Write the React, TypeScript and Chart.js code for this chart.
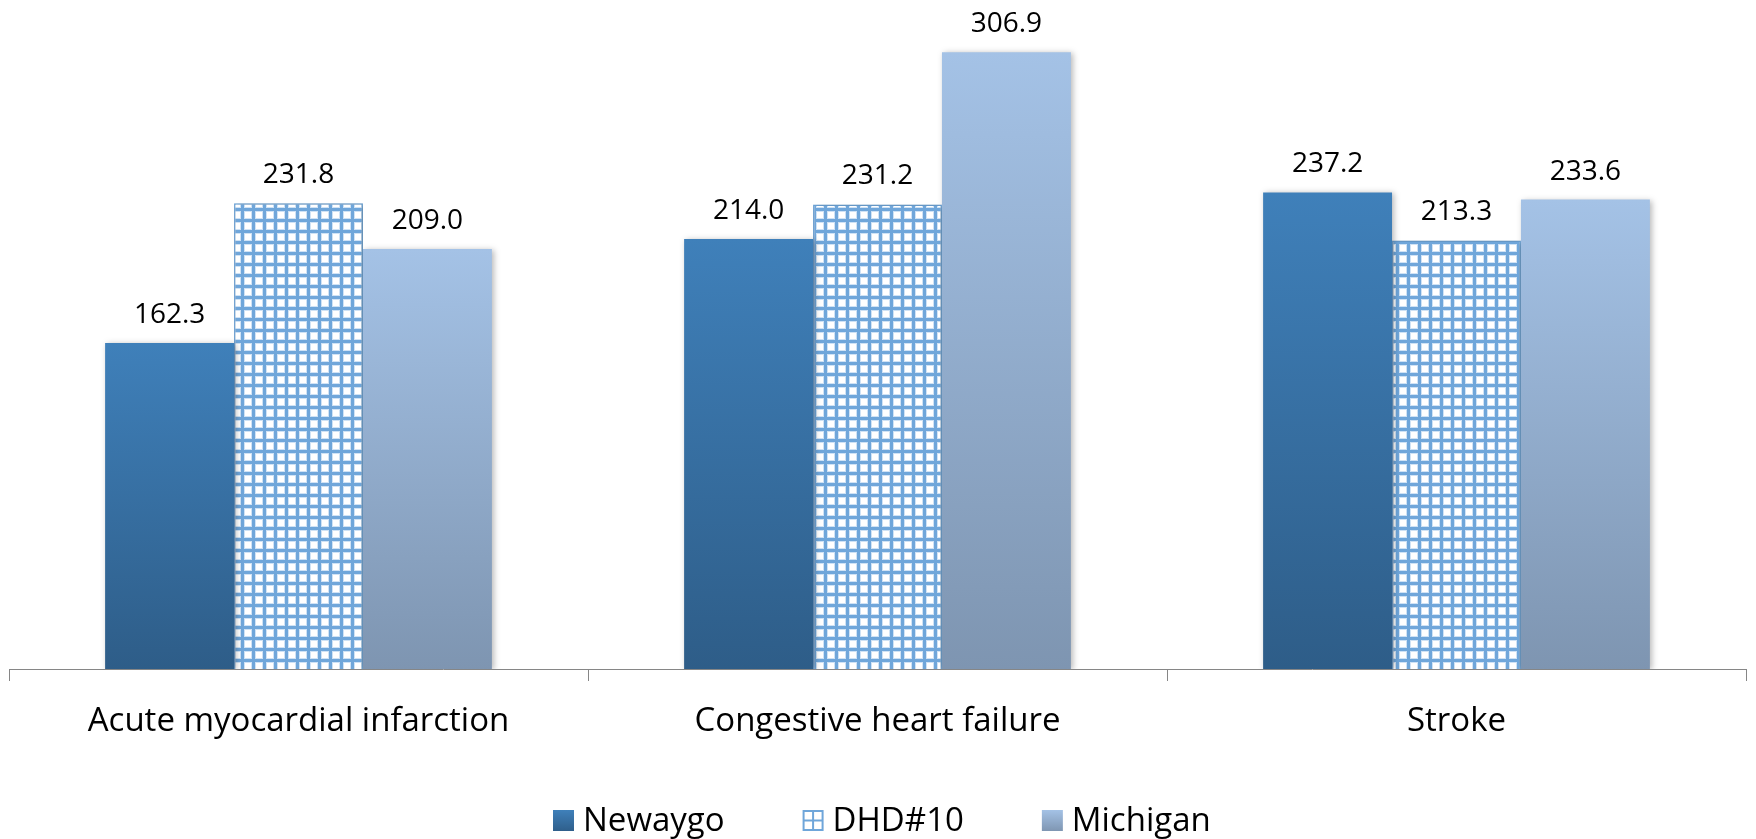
import React, { useEffect, useRef } from "react";
import { Chart, registerables } from "chart.js";

Chart.register(...registerables);

const categories = ["Acute myocardial infarction", "Congestive heart failure", "Stroke"];
const seriesNames = ["Newaygo", "DHD#10", "Michigan"];
const newaygo = [162.3, 214.0, 237.2];
const dhd10 = [231.8, 231.2, 213.3];
const michigan = [209.0, 306.9, 233.6];

const FONT = "'Open Sans', 'DejaVu Sans', sans-serif";

function makePattern(): CanvasPattern | string {
  const c = document.createElement("canvas");
  c.width = 11;
  c.height = 11;
  const g = c.getContext("2d");
  if (!g) return "#6fa6da";
  g.fillStyle = "#6fa6da";
  g.fillRect(0, 0, 11, 11);
  g.fillStyle = "#cfe2f5";
  g.fillRect(2, 2, 8, 8);
  g.fillStyle = "#ffffff";
  g.fillRect(3, 3, 6, 6);
  const p = g.createPattern(c, "repeat");
  return p || "#6fa6da";
}

function gradFill(top: string, bottom: string, fallback: string) {
  return (ctx: any) => {
    const chart = ctx.chart;
    const area = chart.chartArea;
    if (!area || ctx.type !== "data") return fallback;
    const y0 = chart.scales.y.getPixelForValue(ctx.raw);
    const g = chart.ctx.createLinearGradient(0, y0, 0, area.bottom);
    g.addColorStop(0, top);
    g.addColorStop(1, bottom);
    return g;
  };
}

export default function App() {
  const ref = useRef<HTMLCanvasElement>(null);
  useEffect(() => {
    if (!ref.current) return;
    const pattern = makePattern();

    const shadowLabels = {
      id: "shadowLabels",
      beforeDatasetsDraw(chart: any) {
        const c = chart.ctx;
        c.save();
        c.shadowColor = "rgba(0,0,0,0.28)";
        c.shadowBlur = 6;
        c.shadowOffsetX = 2;
        c.shadowOffsetY = 1;
      },
      afterDatasetsDraw(chart: any) {
        const c = chart.ctx;
        c.restore();
        c.save();
        c.fillStyle = "#000";
        c.font = `28px ${FONT}`;
        c.textAlign = "center";
        c.textBaseline = "alphabetic";
        chart.data.datasets.forEach((ds: any, i: number) => {
          const meta = chart.getDatasetMeta(i);
          meta.data.forEach((bar: any, j: number) => {
            c.fillText(Number(ds.data[j]).toFixed(1), bar.x, bar.y - 20);
          });
        });
        c.restore();
      },
      afterDraw(chart: any) {
        const c = chart.ctx;
        c.save();
        c.font = `33px ${FONT}`;
        c.textBaseline = "middle";
        c.textAlign = "left";
        const y = 821;
        let x = 553;
        const box = 21;
        const gap = 9;
        const spacing = 78;
        seriesNames.forEach((name, i) => {
          const tw = c.measureText(name).width;
          const top = y - 11;
          if (i === 1) {
            c.fillStyle = "#6fa6da";
            c.fillRect(x, top, box, box);
            c.fillStyle = "#fff";
            c.fillRect(x + 2, top + 2, 7.5, 7.5);
            c.fillRect(x + 11.5, top + 2, 7.5, 7.5);
            c.fillRect(x + 2, top + 11.5, 7.5, 7.5);
            c.fillRect(x + 11.5, top + 11.5, 7.5, 7.5);
          } else {
            const g = c.createLinearGradient(0, top, 0, top + box);
            if (i === 0) {
              g.addColorStop(0, "#3f80ba");
              g.addColorStop(1, "#2f5f8b");
            } else {
              g.addColorStop(0, "#a4c2e6");
              g.addColorStop(1, "#7f96b2");
            }
            c.fillStyle = g;
            c.fillRect(x, top, box, box);
          }
          c.fillStyle = "#000";
          c.fillText(name, x + box + gap, y + 1);
          x += box + gap + tw + spacing;
        });
        c.restore();
      },
    };

    const chart = new Chart(ref.current, {
      type: "bar",
      data: {
        labels: categories,
        datasets: [
          {
            label: seriesNames[0],
            data: newaygo,
            backgroundColor: gradFill("#3f80ba", "#2e5d88", "#3f80ba"),
            borderWidth: 0,
          },
          {
            label: seriesNames[1],
            data: dhd10,
            backgroundColor: pattern as any,
            borderColor: "#6fa6da",
            borderWidth: 1.5,
          },
          {
            label: seriesNames[2],
            data: michigan,
            backgroundColor: gradFill("#a4c2e6", "#7e95b1", "#a4c2e6"),
            borderWidth: 0,
          },
        ],
      },
      options: {
        animation: false,
        responsive: true,
        maintainAspectRatio: false,
        layout: { padding: { top: 26, bottom: 90, left: 9, right: 10 } },
        datasets: { bar: { categoryPercentage: 0.668, barPercentage: 1 } },
        plugins: { legend: { display: false }, tooltip: { enabled: false } },
        scales: {
          x: {
            offset: true,
            grid: {
              offset: true,
              drawOnChartArea: false,
              drawTicks: true,
              tickLength: 12,
              color: "#868686",
            },
            border: { color: "#868686", width: 1 },
            ticks: {
              color: "#000",
              font: { family: FONT, size: 33 },
              padding: 21,
              maxRotation: 0,
            },
            afterFit: (scale: any) => {
              scale.height = 80;
            },
          },
          y: {
            display: false,
            min: 0,
            max: 320,
          },
        },
      },
      plugins: [shadowLabels],
    });
    return () => chart.destroy();
  }, []);

  return (
    <div style={{ position: "fixed", left: 0, top: 0, width: 1756, height: 839 }}>
      <canvas ref={ref} />
    </div>
  );
}
